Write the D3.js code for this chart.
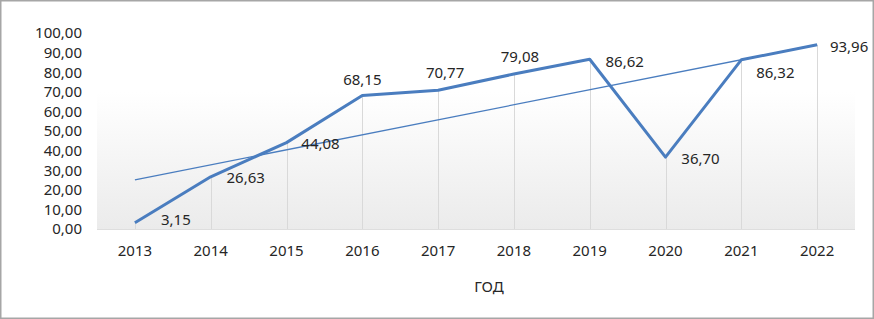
<!DOCTYPE html>
<html>
<head>
<meta charset="utf-8">
<script src="https://cdn.jsdelivr.net/npm/d3@7"></script>
<style>
  html, body { margin: 0; padding: 0; background: #fff; }
  svg { display: block; font-family: "Noto Sans", "Open Sans", sans-serif; }
</style>
</head>
<body>
<svg id="chart" width="874" height="319"></svg>
<script>
// ---- data ----
const years = ["2013", "2014", "2015", "2016", "2017", "2018", "2019", "2020", "2021", "2022"];
const values = [3.15, 26.63, 44.08, 68.15, 70.77, 79.08, 86.62, 36.70, 86.32, 93.96];
const trendYears = ["2013", "2022"];
const trendValues = [25.1, 94.0];
const yTicks = [0, 10, 20, 30, 40, 50, 60, 70, 80, 90, 100];
const xTitle = "ГОД";

// ---- label placement (offset of label centre from point) ----
const labelDx = [41, 35, 34, 0, 7, 6, 35, 35, 34, 32];
const labelDy = [-3, 1, 1, -16, -18, -17, 3, 2, 13, 2];

const W = 874, H = 319;
const plot = { left: 97, right: 855, top: 33, bottom: 229 };
const lineColor = "#4a7dbf";
const textColor = "#262626";

const svg = d3.select("#chart");
const loc = d3.formatLocale({ decimal: ",", thousands: " ", grouping: [3], currency: ["", ""] });
const fmt = loc.format(".2f");

const x = d3.scaleBand().domain(years).range([plot.left, plot.right]).padding(0);
const cx = d => x(d) + x.bandwidth() / 2;
const y = d3.scaleLinear().domain([0, 100]).range([plot.bottom, plot.top]);

// outer border
svg.append("rect").attr("x", 0.75).attr("y", 0.75).attr("width", W - 1.5).attr("height", H - 1.5)
  .attr("fill", "#fff").attr("stroke", "#a6a6a6").attr("stroke-width", 1.5);

// plot area gradient
const defs = svg.append("defs");
const grad = defs.append("linearGradient").attr("id", "bg").attr("x1", 0).attr("y1", 0).attr("x2", 0).attr("y2", 1);
grad.append("stop").attr("offset", "0%").attr("stop-color", "#ffffff");
grad.append("stop").attr("offset", "30%").attr("stop-color", "#ffffff");
grad.append("stop").attr("offset", "100%").attr("stop-color", "#ebebeb");
svg.append("rect").attr("x", plot.left).attr("y", plot.top)
  .attr("width", plot.right - plot.left).attr("height", plot.bottom - plot.top)
  .attr("fill", "url(#bg)");

// baseline
svg.append("line").attr("x1", plot.left).attr("x2", plot.right)
  .attr("y1", plot.bottom + 0.5).attr("y2", plot.bottom + 0.5)
  .attr("stroke", "#dedede").attr("stroke-width", 1);

// drop lines
svg.append("g").selectAll("line").data(values).join("line")
  .attr("x1", (d, i) => Math.round(cx(years[i])) + 0.5)
  .attr("x2", (d, i) => Math.round(cx(years[i])) + 0.5)
  .attr("y1", d => y(d)).attr("y2", plot.bottom)
  .attr("stroke", "#d9d9d9").attr("stroke-width", 1);

// axes
const yAxis = svg.append("g").attr("transform", `translate(${plot.left},0)`)
  .call(d3.axisLeft(y).tickValues(yTicks).tickFormat(fmt).tickSize(0).tickPadding(15));
yAxis.select(".domain").remove();
yAxis.selectAll("text").attr("fill", textColor).style("font-size", "15px")
  .style("font-family", '"Noto Sans", sans-serif');

const xAxis = svg.append("g").attr("transform", `translate(0,${plot.bottom})`)
  .call(d3.axisBottom(x).tickSize(0).tickPadding(16));
xAxis.select(".domain").remove();
xAxis.selectAll("text").attr("fill", textColor).style("font-size", "15px")
  .style("font-family", '"Noto Sans", sans-serif');

// axis title
svg.append("text").attr("x", 489).attr("y", 287).attr("dy", "0.35em")
  .attr("text-anchor", "middle").attr("fill", textColor).style("font-size", "15px")
  .text(xTitle);

// trend line
const trendLine = d3.line().x((d, i) => cx(trendYears[i])).y(d => y(d));
svg.append("path").datum(trendValues).attr("d", trendLine)
  .attr("fill", "none").attr("stroke", lineColor).attr("stroke-width", 1.3);

// main line
const line = d3.line().x((d, i) => cx(years[i])).y(d => y(d));
svg.append("path").datum(values).attr("d", line)
  .attr("fill", "none").attr("stroke", lineColor).attr("stroke-width", 3)
  .attr("stroke-linejoin", "round");

// data labels
svg.append("g").selectAll("text").data(values).join("text")
  .attr("x", (d, i) => cx(years[i]) + labelDx[i])
  .attr("y", (d, i) => y(d) + labelDy[i])
  .attr("dy", "0.35em").attr("text-anchor", "middle")
  .attr("fill", textColor).style("font-size", "15px")
  .text(d => fmt(d));
</script>
</body>
</html>
